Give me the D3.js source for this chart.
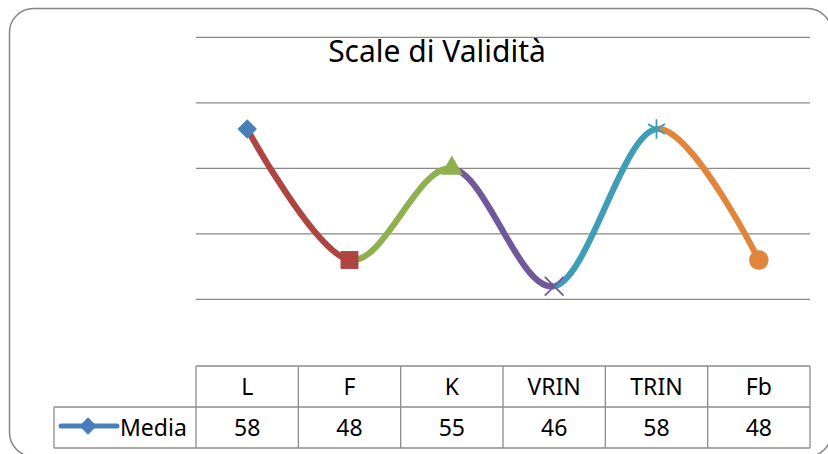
<!DOCTYPE html>
<html>
<head>
<meta charset="utf-8">
<script src="https://cdn.jsdelivr.net/npm/d3@7"></script>
<style>
  body { margin: 0; background: #fff; }
  text { font-family: "Noto Sans", "Open Sans", sans-serif; fill: #000; }
</style>
</head>
<body>
<div id="chart"></div>
<script>
// data
var categories = ["L", "F", "K", "VRIN", "TRIN", "Fb"];
var media = [58, 48, 55, 46, 58, 48];
var seriesName = "Media";
var yTicks = [45, 50, 55, 60, 65];
var chartTitle = "Scale di Validità";

// one colour per point, like excel "vary colours by point"
var pointColors = ["#4a7ebb", "#ae4541", "#8eb04f", "#71589a", "#3f9db5", "#e0853a"];

var W = 828, H = 454;
var plot = {left: 196, right: 810, top: 37.3, bottom: 364.8};

var svg = d3.select("#chart")
  .append("svg")
    .attr("width", W)
    .attr("height", H);

// chart area border
svg.append("rect")
  .attr("x", 9.5).attr("y", 8.5)
  .attr("width", 822).attr("height", 448)
  .attr("rx", 24).attr("ry", 24)
  .attr("fill", "#fff")
  .attr("stroke", "#868686")
  .attr("stroke-width", 1.5);

var x = d3.scaleBand()
  .domain(categories)
  .range([plot.left, plot.right])
  .padding(0);

var y = d3.scaleLinear()
  .domain([40, 65])
  .range([plot.bottom, plot.top]);

var cx = function(c) { return x(c) + x.bandwidth() / 2; };

// gridlines
svg.append("g")
  .selectAll("line")
  .data(yTicks)
  .enter()
  .append("line")
    .attr("x1", plot.left).attr("x2", plot.right)
    .attr("y1", function(d) { return y(d); })
    .attr("y2", function(d) { return y(d); })
    .attr("stroke", "#888")
    .attr("stroke-width", 1.3);

// title
svg.append("text")
  .attr("x", 437)
  .attr("y", 62)
  .attr("text-anchor", "middle")
  .style("font-size", "30px")
  .text(chartTitle);

// smoothed line, cut into segments coloured by the end point
var pts = categories.map(function(c, i) { return {cat: c, val: media[i]}; });
var line = d3.line()
  .x(function(d) { return cx(d.cat); })
  .y(function(d) { return y(d.val); })
  .curve(d3.curveCardinal.tension(0));

var defs = svg.append("defs");
for (var i = 0; i < categories.length - 1; i++) {
  var x0 = cx(categories[i]), x1 = cx(categories[i + 1]);
  defs.append("clipPath")
    .attr("id", "seg" + i)
    .append("rect")
      .attr("x", x0).attr("y", 0)
      .attr("width", x1 - x0).attr("height", H);
  svg.append("path")
    .datum(pts)
    .attr("d", line)
    .attr("fill", "none")
    .attr("stroke", pointColors[i + 1])
    .attr("stroke-width", 6.2)
    .attr("clip-path", "url(#seg" + i + ")");
}

// markers
var markerTypes = [
  {type: d3.symbolSquare, size: 190, rot: 45, fill: true},
  {type: d3.symbolSquare, size: 320, rot: 0, fill: true},
  {type: d3.symbolTriangle, size: 210, rot: 0, fill: true},
  {type: d3.symbolX || d3.symbolCross, size: 230, rot: 0, fill: false},
  {type: d3.symbolAsterisk || d3.symbolCross, size: 270, rot: 0, fill: false},
  {type: d3.symbolCircle, size: 300, rot: 0, fill: true}
];

svg.append("g")
  .selectAll("path")
  .data(pts)
  .enter()
  .append("path")
    .attr("transform", function(d, i) {
      return "translate(" + cx(d.cat) + "," + y(d.val) + ") rotate(" + markerTypes[i].rot + ")";
    })
    .attr("d", function(d, i) { return d3.symbol().type(markerTypes[i].type).size(markerTypes[i].size)(); })
    .attr("fill", function(d, i) { return markerTypes[i].fill ? pointColors[i] : "none"; })
    .attr("stroke", function(d, i) { return markerTypes[i].fill ? "none" : pointColors[i]; })
    .attr("stroke-width", 1.8);

// data table
var tbl = {top: 366, mid: 407, bottom: 448, legendLeft: 54};
var tg = svg.append("g")
  .attr("stroke", "#8c8c8c")
  .attr("stroke-width", 1.3);

tg.append("line").attr("x1", plot.left).attr("x2", plot.right).attr("y1", tbl.top).attr("y2", tbl.top);
tg.append("line").attr("x1", tbl.legendLeft).attr("x2", plot.right).attr("y1", tbl.mid).attr("y2", tbl.mid);
tg.append("line").attr("x1", tbl.legendLeft).attr("x2", plot.right).attr("y1", tbl.bottom).attr("y2", tbl.bottom);
tg.append("line").attr("x1", tbl.legendLeft).attr("x2", tbl.legendLeft).attr("y1", tbl.mid).attr("y2", tbl.bottom);

var edges = categories.map(function(c) { return x(c); }).concat([plot.right]);
tg.selectAll("line.v")
  .data(edges)
  .enter()
  .append("line")
    .attr("class", "v")
    .attr("x1", function(d) { return d; })
    .attr("x2", function(d) { return d; })
    .attr("y1", tbl.top).attr("y2", tbl.bottom);

svg.append("g")
  .selectAll("text")
  .data(categories)
  .enter()
  .append("text")
    .attr("x", function(d) { return cx(d); })
    .attr("y", 395)
    .attr("text-anchor", "middle")
    .style("font-size", "23px")
    .text(function(d) { return d; });

svg.append("g")
  .selectAll("text")
  .data(pts)
  .enter()
  .append("text")
    .attr("x", function(d) { return cx(d.cat); })
    .attr("y", 436)
    .attr("text-anchor", "middle")
    .style("font-size", "23px")
    .text(function(d) { return d.val; });

// legend key inside table
svg.append("line")
  .attr("x1", 61).attr("x2", 117)
  .attr("y1", 426).attr("y2", 426)
  .attr("stroke", pointColors[0])
  .attr("stroke-width", 5)
  .attr("stroke-linecap", "round");
svg.append("path")
  .attr("transform", "translate(88,426) rotate(45)")
  .attr("d", d3.symbol().type(d3.symbolSquare).size(150)())
  .attr("fill", pointColors[0]);
svg.append("text")
  .attr("x", 120)
  .attr("y", 436)
  .style("font-size", "23px")
  .text(seriesName);
</script>
</body>
</html>
